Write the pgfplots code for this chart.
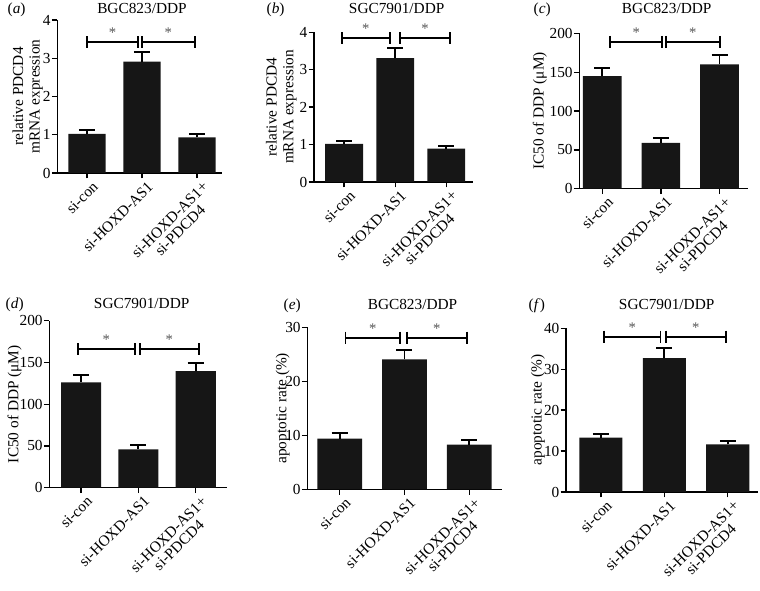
\documentclass[border=0pt]{standalone}
\usepackage{fontspec}
\setmainfont{Liberation Serif}
\usepackage{pgfplots}
\pgfplotsset{compat=1.18}
\definecolor{barc}{HTML}{161616}
\definecolor{starc}{HTML}{555555}
\pgfplotsset{
  panel/.style={
    scale only axis,
    axis lines=left,
    axis line style={-, line width=1pt, black},
    ymin=0,
    enlargelimits=false,
    clip=false,
    xtick={0,1,2},
    xticklabels={si-con,si-HOXD-AS1,si-HOXD-AS1+\\si-PDCD4},
    xticklabel style={xshift=3.5pt, yshift=0pt, rotate=45, anchor=north east, align=center, font=\fontsize{11.5}{11}\selectfont, inner sep=1pt},
    yticklabel style={font=\fontsize{11.5}{12}\selectfont, inner sep=0.8pt},
    ylabel style={font=\fontsize{11.5}{12.5}\selectfont, anchor=center, align=center},
    tick align=outside,
    major tick length=4pt,
    tick style={line width=1pt, black},
    /pgf/number format/assume math mode=true,
    xmin=-0.55, xmax=2.5,
  },
  bars/.style={ybar, bar width=#1, fill=barc, draw=none,
    error bars/.cd, y dir=plus, y explicit,
    error bar style={line width=1.4pt, black},
    error mark options={rotate=90, mark size=6pt, line width=1.4pt, black}},
  brk/.style={black, line width=1.4pt, mark=|, mark size=4.5pt, mark options={line width=1.4pt}},
}
\tikzset{st/.style={text=starc, font=\fontsize{11}{11}\selectfont, yshift=7pt}}
\begin{document}
\begin{tikzpicture}[x=0.75pt, y=0.75pt]
\path[use as bounding box] (0,0) rectangle (760,591);
\tikzset{ttl/.style={anchor=base, font=\fontsize{11.5}{12}\selectfont}, lbl/.style={anchor=base west, font=\fontsize{11.5}{12}\selectfont}}
% titles and panel letters
\node[ttl] at (142,577.7) {BGC823/DDP};
\node[ttl] at (396.7,577.7) {SGC7901/DDP};
\node[ttl] at (666.7,577.7) {BGC823/DDP};
\node[ttl] at (141.7,282.7) {SGC7901/DDP};
\node[ttl] at (412.5,281) {BGC823/DDP};
\node[ttl] at (666.7,281.7) {SGC7901/DDP};
\node[lbl] at (3,577.7) {(\textit{a})};
\node[lbl] at (262,577.7) {(\textit{b})};
\node[lbl] at (529,577.7) {(\textit{c})};
\node[lbl] at (1,282.7) {(\textit{d})};
\node[lbl] at (279,281) {(\textit{e})};
\node[lbl] at (524,281.7) {(\textit{f})};

% (a)
\begin{axis}[panel, at={(42.98pt,313.5pt)}, anchor=south west, width=123.3pt, height=114.75pt,
  ymax=4, ytick={0,1,2,3,4}, xmin=-0.54, xmax=2.45,
  ylabel={relative PDCD4\\mRNA expression}, ylabel style={at={(axis description cs:-0.18,0.5)}}]
\addplot[bars=0.68] coordinates {(0,1.02) +- (0,0.10) (1,2.91) +- (0,0.25) (2,0.93) +- (0,0.08)};
\addplot[brk] coordinates {(0,3.42) (0.93,3.42)};
\addplot[brk] coordinates {(1.0,3.42) (1.96,3.42)};
\node[st] at (axis cs:0.465,3.42) {*};
\node[st] at (axis cs:1.48,3.42) {*};
\end{axis}

% (b)
\begin{axis}[panel, at={(235.5pt,306.75pt)}, anchor=south west, width=119.5pt, height=112.3pt,
  ymax=4, ytick={0,1,2,3,4}, xmin=-0.59, xmax=2.53,
  ylabel={relative PDCD4\\mRNA expression}, ylabel style={at={(axis description cs:-0.205,0.5)}}]
\addplot[bars=0.74] coordinates {(0,1.02) +- (0,0.08) (1,3.31) +- (0,0.28) (2,0.89) +- (0,0.08)};
\addplot[brk] coordinates {(-0.05,3.84) (0.9,3.84)};
\addplot[brk] coordinates {(1.1,3.84) (2.07,3.84)};
\node[st] at (axis cs:0.425,3.84) {*};
\node[st] at (axis cs:1.585,3.84) {*};
\end{axis}

% (c)
\begin{axis}[panel, at={(434.48pt,301.73pt)}, anchor=south west, width=126.75pt, height=116.5pt,
  ymax=200, ytick={0,50,100,150,200}, xmin=-0.39, xmax=2.49,
  ylabel={IC50 of DDP (μM)}, ylabel style={at={(axis description cs:-0.233,0.5)}}]
\addplot[bars=0.66] coordinates {(0,145) +- (0,10) (1,59) +- (0,6.5) (2,160) +- (0,12)};
\addplot[brk] coordinates {(0.14,189) (1.02,189)};
\addplot[brk] coordinates {(1.08,189) (2.01,189)};
\node[st] at (axis cs:0.58,189) {*};
\node[st] at (axis cs:1.545,189) {*};
\end{axis}

% (d)
\begin{axis}[panel, at={(36.98pt,77.48pt)}, anchor=south west, width=133pt, height=125.25pt,
  ymax=200, ytick={0,50,100,150,200}, xmin=-0.555, xmax=2.54,
  ylabel={IC50 of DDP (μM)}, ylabel style={at={(axis description cs:-0.196,0.5)}}]
\addplot[bars=0.7] coordinates {(0,126) +- (0,9) (1,46) +- (0,5) (2,139.5) +- (0,9.5)};
\addplot[brk] coordinates {(-0.06,165.7) (0.94,165.7)};
\addplot[brk] coordinates {(1.03,165.7) (2.05,165.7)};
\node[st] at (axis cs:0.44,165.7) {*};
\node[st] at (axis cs:1.54,165.7) {*};
\end{axis}

% (e)
\begin{axis}[panel, at={(230.48pt,76.28pt)}, anchor=south west, width=146.25pt, height=121.5pt,
  ymax=30, ytick={0,10,20,30}, xmin=-0.5, xmax=2.51,
  ylabel={apoptotic rate (\%)}, ylabel style={at={(axis description cs:-0.126,0.5)}}]
\addplot[bars=0.69] coordinates {(0,9.37) +- (0,1.1) (1,24.07) +- (0,1.7) (2,8.26) +- (0,0.8)};
\addplot[brk] coordinates {(0.09,28.07) (0.93,28.07)};
\addplot[brk] coordinates {(1.04,28.07) (1.96,28.07)};
\node[st] at (axis cs:0.51,28.07) {*};
\node[st] at (axis cs:1.5,28.07) {*};
\end{axis}

% (f)
\begin{axis}[panel, at={(424.5pt,74.25pt)}, anchor=south west, width=144.2pt, height=122.8pt,
  ymax=40, ytick={0,10,20,30,40}, xmin=-0.55, xmax=2.48,
  ylabel={apoptotic rate (\%)}, ylabel style={at={(axis description cs:-0.146,0.5)}}]
\addplot[bars=0.68] coordinates {(0,13.27) +- (0,1.0) (1,32.7) +- (0,2.4) (2,11.66) +- (0,0.85)};
\addplot[brk] coordinates {(0.05,37.97) (0.94,37.97)};
\addplot[brk] coordinates {(1.02,37.97) (1.97,37.97)};
\node[st] at (axis cs:0.495,37.97) {*};
\node[st] at (axis cs:1.495,37.97) {*};
\end{axis}
\end{tikzpicture}
\end{document}
